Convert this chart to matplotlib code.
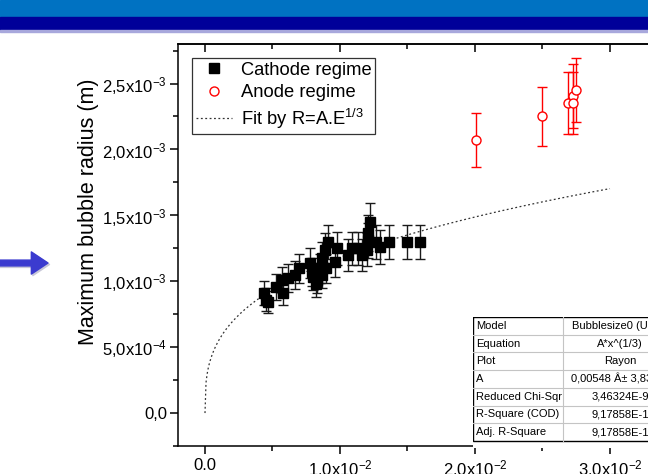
import matplotlib
matplotlib.use('Agg')
import matplotlib.pyplot as plt
from matplotlib.lines import Line2D
from matplotlib.patches import Rectangle, FancyArrowPatch
from matplotlib.ticker import FixedLocator, MultipleLocator
import numpy as np

plt.rcParams['font.family'] = ['Liberation Sans', 'DejaVu Sans']
plt.rcParams['mathtext.default'] = 'regular'

# cathode regime (black squares)
cathode_x = [0.00452, 0.00437, 0.00467, 0.00526, 0.00578, 0.00570, 0.00615, 0.00667,
             0.00696, 0.00778, 0.00793, 0.00800, 0.00830, 0.00820, 0.00852, 0.00867,
             0.00870, 0.00889, 0.00900, 0.00911, 0.00963, 0.00978, 0.01060, 0.01090,
             0.01130, 0.01160, 0.01200, 0.01220, 0.01210, 0.01210, 0.01270, 0.01300,
             0.01360, 0.01500, 0.01590]
cathode_y = [8.59e-4, 9.11e-4, 8.40e-4, 9.57e-4, 9.11e-4, 1.01e-3, 1.025e-3, 1.048e-3,
             1.10e-3, 1.138e-3, 1.07e-3, 1.033e-3, 1.01e-3, 9.80e-4, 1.10e-3, 1.18e-3,
             1.05e-3, 1.24e-3, 1.10e-3, 1.30e-3, 1.146e-3, 1.25e-3, 1.20e-3, 1.25e-3,
             1.25e-3, 1.20e-3, 1.24e-3, 1.45e-3, 1.365e-3, 1.31e-3, 1.297e-3, 1.26e-3,
             1.30e-3, 1.30e-3, 1.30e-3]
cathode_err = [0.86e-4, 0.91e-4, 0.84e-4, 0.96e-4, 0.91e-4, 1.01e-4, 1.03e-4, 1.05e-4,
               1.10e-4, 1.14e-4, 1.07e-4, 1.03e-4, 1.01e-4, 0.98e-4, 1.10e-4, 1.18e-4,
               1.05e-4, 1.24e-4, 1.10e-4, 1.30e-4, 1.15e-4, 1.25e-4, 1.20e-4, 1.25e-4,
               1.25e-4, 1.20e-4, 1.24e-4, 1.45e-4, 1.37e-4, 1.31e-4, 1.30e-4, 1.26e-4,
               1.30e-4, 1.30e-4, 1.30e-4]

# anode regime (red open circles)
anode_x = [0.02005, 0.02499, 0.02690, 0.02724, 0.02728, 0.02748]
anode_y = [2.07e-3, 2.25e-3, 2.355e-3, 2.405e-3, 2.355e-3, 2.45e-3]
anode_err = [2.07e-4, 2.25e-4, 2.36e-4, 2.41e-4, 2.36e-4, 2.45e-4]

# fit R = A.E^(1/3)
fit_A = 0.00548
fit_xmax = 0.03

xticks = [0.0, 0.01, 0.02, 0.03]
xtick_labels = ['0.0', '1.0x10$^{-2}$', '2.0x10$^{-2}$', '3.0x10$^{-2}$']
yticks = [0.0, 5e-4, 1e-3, 1.5e-3, 2e-3, 2.5e-3]
ytick_labels = ['0,0', '5,0x10$^{-4}$', '1,0x10$^{-3}$', '1,5x10$^{-3}$',
                '2,0x10$^{-3}$', '2,5x10$^{-3}$']

table_labels = ['Model', 'Equation', 'Plot', 'A', 'Reduced Chi-Sqr',
                'R-Square (COD)', 'Adj. R-Square']
table_values = ['Bubblesize0 (User)', 'A*x^(1/3)', 'Rayon', '0,00548 Â± 3,83E-5',
                '3,46324E-9', '9,17858E-1', '9,17858E-1']

W, H = 648, 474
fig = plt.figure(figsize=(W / 100, H / 100), dpi=100)


def fx(px):
    return px / W


def fy(py):
    return 1 - py / H


# slide header bands
fig.patches.append(Rectangle((0, fy(17)), 1, 17 / H, transform=fig.transFigure,
                             color='#0072C2', zorder=0))
fig.patches.append(Rectangle((0, fy(30)), 1, 13 / H, transform=fig.transFigure,
                             color='#000099', zorder=0))
fig.patches.append(Rectangle((0, fy(31.5)), 1, 1.5 / H, transform=fig.transFigure,
                             color='#A8A8DC', zorder=0))

# slide arrow
for off, col in [(1.5, '#C8C8D8'), (0, '#3B3BCF')]:
    fig.patches.append(FancyArrowPatch((fx(-5 + off), fy(263 + off)), (fx(48 + off), fy(263 + off)),
                                       transform=fig.transFigure,
                                       arrowstyle='simple,head_length=1.2,head_width=1.6,tail_width=0.42',
                                       mutation_scale=10, color=col, shrinkA=0, shrinkB=0))

ax = fig.add_axes([fx(178), fy(446), fx(700) - fx(178), (446 - 44) / H])
ax.set_xlim(-0.002, 0.03667)
ax.set_ylim(-2.5e-4, 2.8e-3)

xfit = np.linspace(0, fit_xmax, 400)
ax.plot(xfit, fit_A * xfit ** (1 / 3), color='#333333', lw=0.9,
        linestyle=(0, (1.5, 2)), zorder=1)

ax.errorbar(cathode_x, cathode_y, yerr=cathode_err, fmt='s', ms=6.7, color='black',
            ecolor='#1a1a1a', elinewidth=1, capsize=3.6, capthick=1, zorder=3)
ax.errorbar(anode_x, anode_y, yerr=anode_err, fmt='o', ms=6.5, mfc='white', mec='red',
            mew=1, ecolor='red', elinewidth=1, capsize=3.3, capthick=1, zorder=3)

for s in ['left', 'bottom', 'top']:
    ax.spines[s].set_linewidth(1.1)
ax.spines['right'].set_visible(False)

ax.xaxis.set_major_locator(FixedLocator(xticks))
ax.set_xticklabels(xtick_labels)
ax.xaxis.set_minor_locator(MultipleLocator(0.005))
ax.yaxis.set_major_locator(FixedLocator(yticks))
ax.set_yticklabels(ytick_labels)
ax.yaxis.set_minor_locator(MultipleLocator(2.5e-4))
ax.tick_params(which='major', direction='out', length=6, width=1.1, labelsize=12)
ax.tick_params(which='minor', direction='out', length=3.5, width=1.1)
ax.tick_params(axis='x', pad=3)
ax.tick_params(axis='y', pad=2)

top = ax.secondary_xaxis('top')
top.xaxis.set_major_locator(FixedLocator(xticks))
top.xaxis.set_minor_locator(MultipleLocator(0.005))
top.tick_params(which='major', direction='in', length=6, width=1.1, labeltop=False)
top.tick_params(which='minor', direction='in', length=3.5, width=1.1)
top.spines['top'].set_linewidth(1.1)

ax.set_ylabel('Maximum bubble radius (m)', fontsize=15.5)
ax.yaxis.set_label_coords(-0.151, 0.582)

handles = [
    Line2D([], [], ls='none', marker='s', ms=6.7, color='black'),
    Line2D([], [], ls='none', marker='o', ms=6.5, mfc='white', mec='red', mew=1),
    Line2D([], [], color='#333333', lw=0.9, linestyle=(0, (1.5, 2))),
]
labels = ['Cathode regime', 'Anode regime', 'Fit by R=A.E$^{1/3}$']
leg = ax.legend(handles, labels, loc='upper left', bbox_to_anchor=(fx(192), fy(58)),
                bbox_transform=fig.transFigure, borderaxespad=0, fontsize=13.2,
                frameon=True, fancybox=False, edgecolor='black', borderpad=0.2,
                handlelength=2.0, handletextpad=0.45, labelspacing=0.3)
leg.get_frame().set_linewidth(0.9)

# fit results table
tax = fig.add_axes([fx(473), fy(448), fx(700) - fx(473), (448 - 317) / H])
tax.set_xlim(473, 700)
tax.set_ylim(448, 317)
tax.set_xticks([])
tax.set_yticks([])
for s in tax.spines.values():
    s.set_visible(False)
tax.patch.set_facecolor('white')

row_h = (441 - 317) / len(table_labels)
for i, (lab, val) in enumerate(zip(table_labels, table_values)):
    yc = 317 + row_h * (i + 0.5)
    tax.text(476, yc, lab, fontsize=8, ha='left', va='center')
    tax.text(620, yc, val, fontsize=8, ha='center', va='center')
    if i > 0:
        tax.plot([473, 677], [317 + row_h * i] * 2, color='#c4c4c4', lw=0.8)
tax.plot([563, 563], [317, 441], color='#c4c4c4', lw=0.8)
tax.add_patch(Rectangle((473, 317), 204, 124, fill=False, edgecolor='black', lw=1))

fig.savefig('out.png', dpi=100)
